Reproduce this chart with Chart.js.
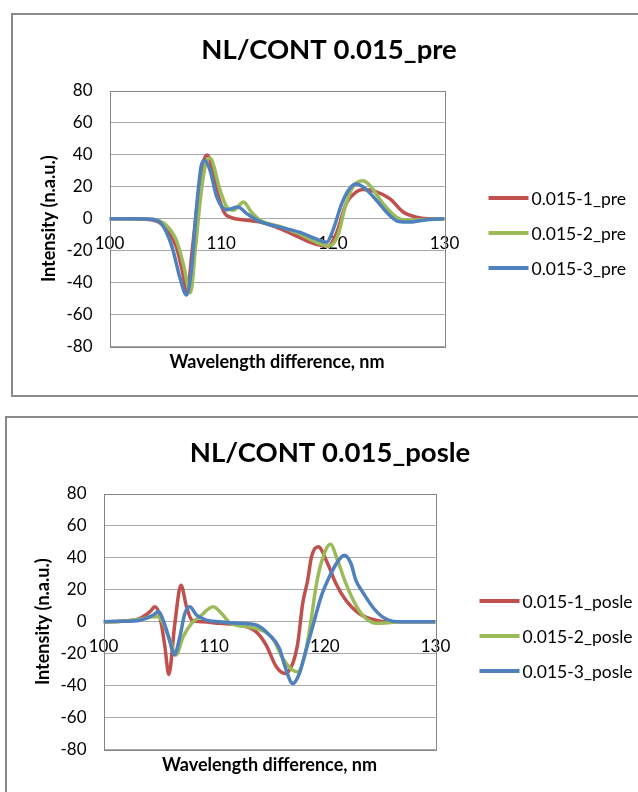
<!DOCTYPE html>
<html>
<head>
<meta charset="utf-8">
<script src="https://cdn.jsdelivr.net/npm/chart.js@4.4.1/dist/chart.umd.min.js"></script>
<style>
  html, body { margin: 0; padding: 0; background: #fff; width: 638px; height: 792px; overflow: hidden; position: relative; }
  .box { position: absolute; border: 2px solid #8a8a8a; background: #fff; overflow: hidden; }
  #box1 { left: 11px; top: 13px; width: 700px; height: 380px; }
  #box2 { left: 5px; top: 416px; width: 700px; height: 400px; }
  canvas { display: block; }
</style>
</head>
<body>
<div class="box" id="box1"><canvas id="preChart" width="632" height="380"></canvas></div>
<div class="box" id="box2"><canvas id="posleChart" width="646" height="380"></canvas></div>
<script>
// axis ranges (wavelength difference, nm / intensity, n.a.u.)
const xRange = [100, 130];
const xStep = 10;
const yRange = [-80, 80];
const yStep = 20;

const colors = ['#c0504d', '#9bbb59', '#4f81bd'];

// --- NL/CONT 0.015_pre ---
const preLabels = ['0.015-1_pre', '0.015-2_pre', '0.015-3_pre'];

const pre1X = [100, 102, 103.5, 104.5, 105.1, 106.0, 106.5, 106.95, 107.4, 107.9, 108.3, 108.75, 109.2, 109.6, 110.3, 110.8, 112.3, 113.5, 115.3, 117.0, 118.5, 119.6, 120.3, 121.2, 122.1, 122.7, 123.9, 125.1, 126.3, 127.5, 128.7, 130];
const pre1Y = [0, 0, -0.5, -2.5, -6.3, -18, -32, -45.5, -20, 12, 33, 40, 31, 18, 3.6, 1, -1, -2.1, -6.3, -11.6, -16, -17, -9.5, 9.5, 16.8, 18.3, 16.8, 12.6, 4.2, 1, 0, 0];

const pre2X = [100, 102, 103.8, 105.1, 106.0, 106.6, 107.25, 107.7, 108.2, 108.6, 109.0, 109.9, 110.5, 111.1, 112.0, 112.7, 113.5, 115.25, 117.0, 118.5, 119.7, 120.5, 121.1, 121.8, 122.7, 123.3, 124.5, 125.7, 126.6, 128.4, 130];
const pre2Y = [0, 0, -0.3, -4.2, -13.7, -28, -46.3, -18, 16, 34, 38, 17.9, 7.4, 5.3, 10.5, 4.2, -1, -4.8, -9.5, -14.7, -17, -9.5, 7.4, 20, 23.8, 21, 9.5, 1, -1, -0.4, 0];

const pre3X = [100, 102, 103.6, 104.5, 105.1, 105.7, 106.3, 106.9, 107.35, 107.8, 108.2, 108.5, 109.0, 109.6, 110.5, 111.5, 112.3, 113.4, 115.25, 117.0, 118.5, 119.45, 120.0, 120.8, 121.5, 122.1, 122.9, 123.9, 125.1, 125.9, 126.9, 128.4, 130];
const pre3Y = [0, 0, -0.3, -2.1, -8.4, -20, -36.8, -47.8, -30.5, 7.4, 32.6, 36.4, 30.5, 13.7, 5.7, 7.4, 3.2, -1.5, -5.3, -8.4, -12.6, -14.7, -7.4, 9.5, 18.9, 21.7, 18.9, 11.6, 2.1, -1.7, -2.1, -0.6, 0];

// --- NL/CONT 0.015_posle ---
const posleLabels = ['0.015-1_posle', '0.015-2_posle', '0.015-3_posle'];

const posle1X = [100, 101.5, 103.3, 104.2, 104.65, 105.1, 105.55, 105.9, 106.45, 107.0, 107.5, 108.0, 109.0, 110.5, 112.3, 113.8, 114.7, 115.6, 116.4, 117.1, 117.55, 118.0, 118.45, 118.8, 119.4, 120.25, 121.0, 121.9, 123.1, 124.6, 125.8, 130];
const posle1Y = [0, 0.3, 2.1, 6.3, 9.4, 3.1, -15.6, -33, -1, 22.9, 9.4, 1, 0, -1, -2, -6.3, -14.6, -28, -32.4, -26, -13.6, 11.5, 26, 40.8, 46.9, 36.5, 24, 13.5, 5.2, 1, 0, 0];

const posle2X = [100, 101.5, 103.3, 104.5, 104.95, 105.4, 106.0, 106.54, 107.2, 107.96, 108.7, 109.9, 110.8, 111.4, 113.8, 115.3, 116.2, 117.1, 117.55, 118.15, 118.6, 118.8, 119.2, 119.66, 120.5, 121.15, 121.9, 122.8, 123.55, 124.6, 125.8, 126.7, 130];
const posle2Y = [0, 0.2, 1.5, 3.1, 3.1, -1, -11.5, -20.8, -9.4, -1, 3.1, 9.4, 4.2, -0.6, -4.2, -10.5, -23, -30.3, -31.4, -22, -6, 3, 21.9, 36.5, 48.5, 38.5, 24, 10.4, 3.1, -1, -0.6, 0, 0];

const posle3X = [100, 101.5, 103.3, 104.5, 104.95, 105.55, 106.0, 106.4, 106.9, 107.35, 107.8, 108.4, 109.3, 110.5, 112.3, 113.8, 115.0, 115.9, 116.4, 117.1, 117.7, 118.3, 118.9, 119.66, 120.4, 121.15, 121.75, 122.36, 122.8, 123.4, 124.3, 125.2, 126.1, 127, 130];
const posle3Y = [0, 0.3, 1, 4.2, 6.3, -2.1, -12.5, -20.8, -9.4, 5.2, 9.4, 4.2, 1, 0, -1, -2, -8.4, -16.7, -28, -38.7, -32.4, -17.8, -3.1, 15.6, 28, 37.5, 41.7, 36.5, 26, 18.8, 9.4, 3.1, 0.4, 0, 0];

const fontFamily = 'Lato, "Open Sans", sans-serif';
Chart.defaults.font.family = fontFamily;
Chart.defaults.color = '#000';

const toPoints = (xs, ys) => xs.map((x, i) => ({ x: x, y: ys[i] }));

// plot frame + legend to the right of the plot, Excel style
const sideLegend = {
  id: 'sideLegend',
  beforeDatasetsDraw(chart) {
    const { ctx, chartArea: a } = chart;
    ctx.save();
    ctx.strokeStyle = '#868686';
    ctx.lineWidth = 1;
    ctx.strokeRect(Math.round(a.left) + 0.5, Math.round(a.top) + 0.5,
      Math.round(a.right - a.left), Math.round(a.bottom - a.top));
    ctx.restore();
  },
  afterDraw(chart) {
    const { ctx, chartArea: a } = chart;
    const x0 = a.right + 44;
    const yMid = (a.top + a.bottom) / 2 + 14.5;
    ctx.save();
    ctx.font = '17.5px ' + fontFamily;
    ctx.textBaseline = 'middle';
    ctx.fillStyle = '#000';
    chart.data.datasets.forEach((ds, i) => {
      const y = Math.round(yMid + (i - 1) * 35);
      ctx.strokeStyle = ds.borderColor;
      ctx.lineWidth = 4;
      ctx.beginPath();
      ctx.moveTo(x0, y);
      ctx.lineTo(x0 + 40, y);
      ctx.stroke();
      ctx.fillText(ds.label, x0 + 43, y + 1);
    });
    ctx.restore();
  }
};

function makeChart(canvasId, title, labels, series, rightSpace) {
  return new Chart(document.getElementById(canvasId), {
    type: 'line',
    data: {
      datasets: series.map((s, i) => ({
        label: labels[i],
        data: toPoints(s[0], s[1]),
        borderColor: colors[i],
        backgroundColor: colors[i],
        borderWidth: 3.5,
        pointRadius: 0,
        cubicInterpolationMode: 'monotone',
        order: 3 - i
      }))
    },
    options: {
      responsive: false,
      animation: false,
      layout: { padding: 0 },
      plugins: {
        legend: { display: false },
        tooltip: { enabled: false },
        title: {
          display: true,
          text: title,
          color: '#000',
          font: { size: 27.5, weight: 'bold' },
          padding: { top: 18.5, bottom: 24.5 }
        }
      },
      scales: {
        x: {
          type: 'linear',
          min: xRange[0],
          max: xRange[1],
          position: { y: 0 },
          ticks: { stepSize: xStep, font: { size: 17 }, padding: 15, maxRotation: 0 },
          grid: { display: false, drawTicks: false },
          border: { display: false }
        },
        xt: {
          type: 'linear',
          axis: 'x',
          min: xRange[0],
          max: xRange[1],
          position: 'bottom',
          ticks: { display: false },
          grid: { display: false, drawTicks: false },
          border: { display: false },
          title: {
            display: true,
            text: 'Wavelength difference, nm',
            font: { size: 18, weight: 'bold' },
            padding: { top: 0, bottom: 22.5 }
          },
          afterFit(scale) { scale.height = 48.5; }
        },
        y: {
          min: yRange[0],
          max: yRange[1],
          ticks: { stepSize: yStep, font: { size: 17 }, padding: 17 },
          grid: { color: '#a8a8a8', drawTicks: false },
          border: { display: false },
          title: {
            display: true,
            text: 'Intensity (n.a.u.)',
            font: { size: 18, weight: 'bold' },
            padding: { top: 25.2, bottom: 0 }
          },
          afterFit(scale) { scale.width = 96.5; }
        },
        // empty right axis, only keeps room for the legend
        legendSpace: {
          type: 'linear',
          axis: 'y',
          position: 'right',
          ticks: { display: false },
          grid: { display: false, drawTicks: false },
          border: { display: false },
          afterFit(scale) { scale.width = rightSpace; }
        }
      }
    },
    plugins: [sideLegend]
  });
}

makeChart('preChart', 'NL/CONT 0.015_pre', preLabels,
  [[pre1X, pre1Y], [pre2X, pre2Y], [pre3X, pre3Y]], 632 - 431.5);
makeChart('posleChart', 'NL/CONT 0.015_posle', posleLabels,
  [[posle1X, posle1Y], [posle2X, posle2Y], [posle3X, posle3Y]], 646 - 428.5);
</script>
</body>
</html>
